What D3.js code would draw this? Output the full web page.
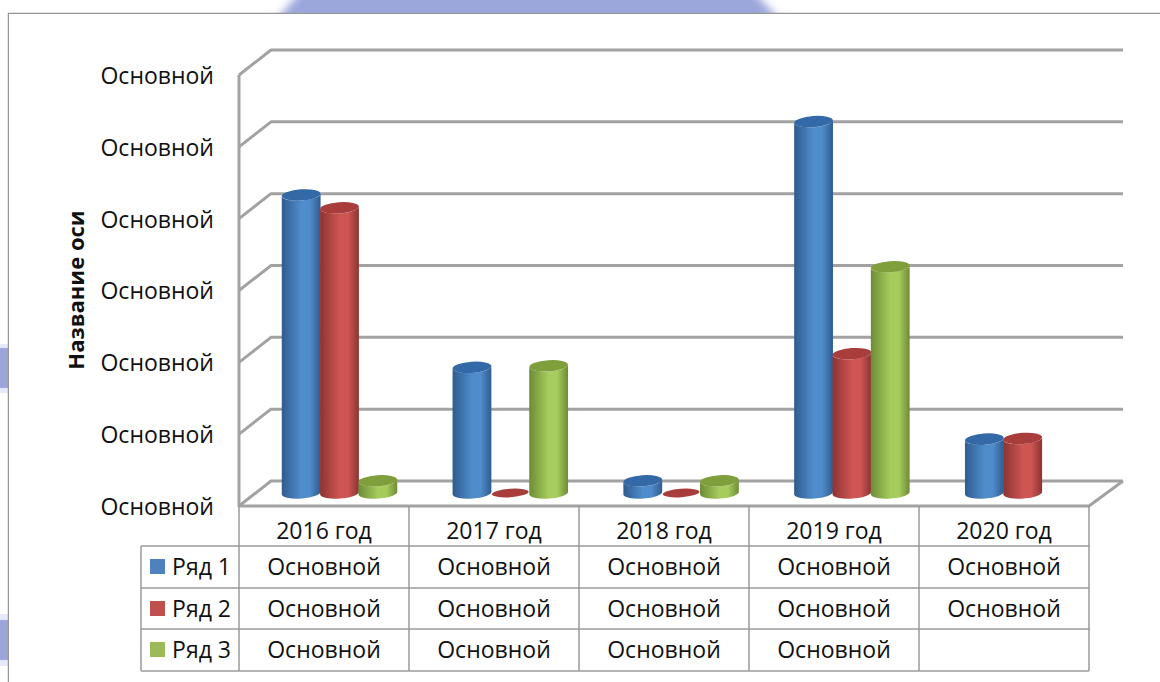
<!DOCTYPE html>
<html>
<head>
<meta charset="utf-8">
<script src="https://cdn.jsdelivr.net/npm/d3@7"></script>
<style>
  body { margin: 0; background: #fff; }
  text { font-family: "Open Sans", "Noto Sans", sans-serif; fill: #111; }
</style>
</head>
<body>
<div id="chart"></div>
<script>
// PLOT DEFAULTS
const WIDTH = 1160;
const HEIGHT = 682;
const FONT_SIZE = 23;
const GRID_COLOR = '#a2a2a2';
const TABLE_COLOR = '#9a9a9a';
const DEPTH = { x: 32, y: -25 };
const BASE_SHIFT = -13; // cylinders stand in the middle of the floor
const RX = 19.4;
const RY = 5.6;

// DATA
const categories = ['2016 год', '2017 год', '2018 год', '2019 год', '2020 год'];
const seriesNames = ['Ряд 1', 'Ряд 2', 'Ряд 3'];
const row1 = [4.15, 1.75, 0.17, 5.17, 0.75];
const row2 = [3.97, 0, 0, 1.94, 0.76];
const row3 = [0.17, 1.77, 0.17, 3.15, null];
const yTicks = [0, 1, 2, 3, 4, 5, 6];
const valueLabel = 'Основной';
const axisTitle = 'Название оси';

const seriesColors = [
  { swatch: '#4f81bd', edge: '#2f5c8f', mid: '#508ccb', top: '#3169a6' },
  { swatch: '#c0504d', edge: '#8c3432', mid: '#cd5552', top: '#a83c3a' },
  { swatch: '#9bbb59', edge: '#6d8c36', mid: '#a6cc5d', top: '#7f9f3e' },
];
const seriesValues = [row1, row2, row3];

const svg = d3.select('#chart')
  .append('svg')
  .attr('width', WIDTH)
  .attr('height', HEIGHT)
  .style('display', 'block');

const defs = svg.append('defs');

defs.append('filter').attr('id', 'soft')
  .append('feGaussianBlur').attr('stdDeviation', 0.55);
defs.append('filter').attr('id', 'feather')
  .attr('x', '-5%').attr('width', '110%')
  .append('feGaussianBlur').attr('stdDeviation', 4);

seriesColors.forEach((c, i) => {
  const grad = defs.append('linearGradient').attr('id', `cyl-${i}`);
  grad.append('stop').attr('offset', '0%').attr('stop-color', c.edge);
  grad.append('stop').attr('offset', '50%').attr('stop-color', c.mid);
  grad.append('stop').attr('offset', '72%').attr('stop-color', c.mid);
  grad.append('stop').attr('offset', '100%').attr('stop-color', c.edge);
});

// slide decoration behind the chart
const deco = svg.append('g').attr('fill', '#9ba6db');
deco.append('clipPath').attr('id', 'top-clip')
  .append('rect').attr('width', WIDTH).attr('height', 13);
deco.append('g').attr('clip-path', 'url(#top-clip)')
  .append('path')
  .attr('d', 'M302,-10L752,-10L780,20L276,20Z')
  .attr('filter', 'url(#feather)');
deco.append('rect').attr('x', 0).attr('y', 344).attr('width', 8).attr('height', 49).attr('fill', '#e6e9f8');
deco.append('rect').attr('x', 0).attr('y', 348).attr('width', 8).attr('height', 40);
deco.append('rect').attr('x', 0).attr('y', 614).attr('width', 8).attr('height', 52).attr('fill', '#e6e9f8');
deco.append('rect').attr('x', 0).attr('y', 620).attr('width', 8).attr('height', 40);

// chart frame
svg.append('path')
  .attr('d', `M8.5,${HEIGHT}V13.5H${WIDTH}`)
  .attr('fill', '#fff')
  .attr('stroke', '#969696')
  .attr('stroke-width', 1.5);
svg.append('rect')
  .attr('x', 9).attr('y', 14)
  .attr('width', WIDTH).attr('height', HEIGHT)
  .attr('fill', '#fff');

// scales
const x = d3.scaleBand().domain(categories).range([239, 1089]);
const xBars = d3.scaleBand().domain(categories).range([239, 1093]); // floor is a little wider further back
const y = d3.scaleLinear().domain([0, 6]).range([506, 75]);
const xSeries = d3.scaleBand().domain(seriesNames).range([43, 158]);
const rowY = d3.scaleOrdinal().domain(seriesNames).range([546, 588, 629]);
const ROW_BOTTOM = 671;

// walls and gridlines
const grid = svg.append('g')
  .attr('fill', 'none')
  .attr('stroke', GRID_COLOR)
  .attr('stroke-width', 3)
  .attr('stroke-linejoin', 'round');

grid.selectAll('path.grid')
  .data(yTicks)
  .join('path')
  .attr('class', 'grid')
  .attr('d', d => `M239,${y(d)}L${239 + DEPTH.x},${y(d) + DEPTH.y}H1123`);

grid.append('path').attr('d', `M239,${y(6)}V${y(0)}H1089L1123,${y(0) + DEPTH.y}`);

// cylinders
const tilt = 1.5;
function bodyPath (cx, yTop, yBase) {
  const x0 = cx - RX;
  const x1 = cx + RX;
  return `M${x0},${yTop + tilt}V${yBase + tilt}`
    + `A${RX},${RY} -4 0 0 ${x1},${yBase - tilt}`
    + `V${yTop - tilt}`
    + `A${RX},${RY} -4 0 1 ${x0},${yTop + tilt}Z`;
}

const bars = svg.append('g').attr('filter', 'url(#soft)');

categories.forEach((cat, ci) => {
  seriesNames.forEach((name, si) => {
    const v = seriesValues[si][ci];
    if (v === null) return;
    const cx = xBars(cat) + xSeries(name) + xSeries.bandwidth() / 2;
    const yBase = y(0) + BASE_SHIFT;
    const yTop = y(v) + BASE_SHIFT;
    if (v > 0) {
      bars.append('path')
        .attr('d', bodyPath(cx, yTop, yBase))
        .attr('fill', `url(#cyl-${si})`);
    }
    bars.append('ellipse')
      .attr('rx', v > 0 ? RX : RX - 1)
      .attr('ry', v > 0 ? RY : 4.2)
      .attr('transform', `translate(${cx},${v > 0 ? yTop : yBase}) rotate(-4)`)
      .attr('fill', seriesColors[si].top);
  });
});

// y axis labels
const yAxis = d3.axisLeft(y)
  .tickValues(yTicks)
  .tickSize(0)
  .tickPadding(25)
  .tickFormat(() => valueLabel);

svg.append('g')
  .attr('transform', 'translate(239,1)')
  .call(yAxis)
  .call(g => g.select('.domain').remove())
  .selectAll('text')
  .attr('font-size', FONT_SIZE)
  .attr('dy', '0.32em');

// axis title
svg.append('text')
  .attr('transform', 'translate(84,290) rotate(-90)')
  .attr('text-anchor', 'middle')
  .attr('font-size', 22)
  .attr('font-weight', 'bold')
  .text(axisTitle);

// data table
const table = svg.append('g')
  .attr('stroke', TABLE_COLOR)
  .attr('stroke-width', 1.5)
  .attr('fill', 'none');

const vLines = categories.map(d => x(d)).concat([x.range()[1]]);
table.selectAll('line.v')
  .data(vLines)
  .join('line')
  .attr('class', 'v')
  .attr('x1', d => d).attr('x2', d => d)
  .attr('y1', y(0)).attr('y2', ROW_BOTTOM);

table.append('line')
  .attr('x1', 141).attr('x2', 141)
  .attr('y1', rowY(seriesNames[0])).attr('y2', ROW_BOTTOM);

table.selectAll('line.h')
  .data(seriesNames.map(d => rowY(d)).concat([ROW_BOTTOM]))
  .join('line')
  .attr('class', 'h')
  .attr('x1', 141).attr('x2', x.range()[1])
  .attr('y1', d => d).attr('y2', d => d);

// category labels
const xAxis = d3.axisBottom(x).tickSize(0).tickPadding(17);
svg.append('g')
  .attr('transform', `translate(0,${y(0)})`)
  .call(xAxis)
  .call(g => g.select('.domain').remove())
  .selectAll('text')
  .attr('font-size', FONT_SIZE);

// table rows
seriesNames.forEach((name, si) => {
  const row = svg.append('g').attr('transform', `translate(0,${rowY(name)})`);

  row.append('rect')
    .attr('x', 150).attr('y', 13)
    .attr('width', 15).attr('height', 15)
    .attr('fill', seriesColors[si].swatch);

  row.append('text')
    .attr('x', 231).attr('y', 20.5)
    .attr('dy', '0.36em')
    .attr('text-anchor', 'end')
    .attr('font-size', FONT_SIZE)
    .text(name);

  row.selectAll('text.val')
    .data(categories.filter((d, i) => seriesValues[si][i] !== null))
    .join('text')
    .attr('class', 'val')
    .attr('x', d => x(d) + x.bandwidth() / 2)
    .attr('y', 20.5)
    .attr('dy', '0.36em')
    .attr('text-anchor', 'middle')
    .attr('font-size', FONT_SIZE)
    .text(valueLabel);
});
</script>
</body>
</html>
